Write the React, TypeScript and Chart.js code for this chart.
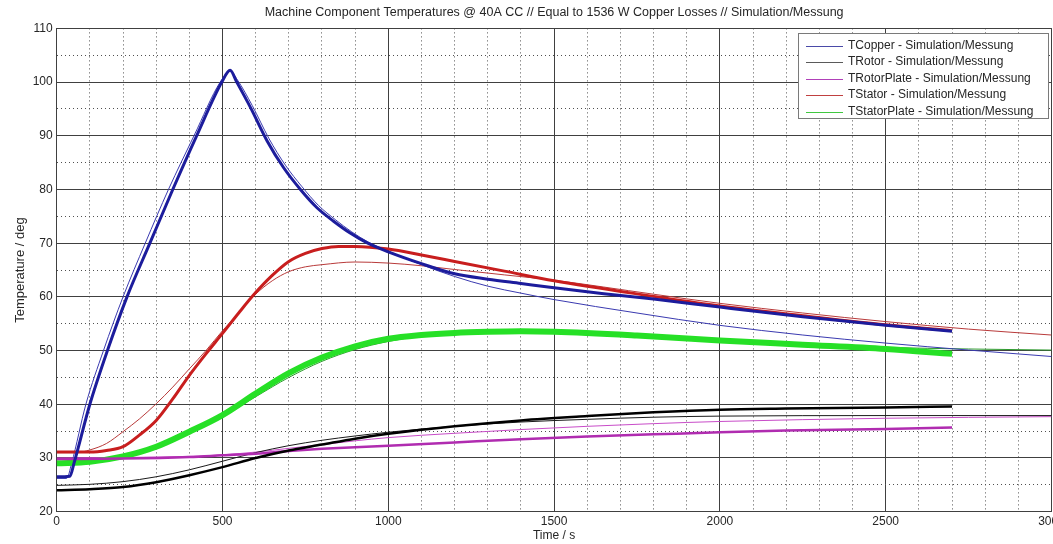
import { useEffect, useRef } from 'react';
import { Chart, registerables } from 'chart.js';

Chart.register(...registerables);

const TITLE = 'Machine Component Temperatures @ 40A CC // Equal to 1536 W Copper Losses // Simulation/Messung';
const X_LABEL = 'Time / s';
const Y_LABEL = 'Temperature / deg';
const LEGEND_LABELS = [
  'TCopper - Simulation/Messung',
  'TRotor - Simulation/Messung',
  'TRotorPlate - Simulation/Messung',
  'TStator - Simulation/Messung',
  'TStatorPlate - Simulation/Messung',
];
const LEGEND_COLORS = ['#4a4aa8', '#5a5a5a', '#b040b8', '#c04040', '#40c840'];

// Copper
const copperSimT = [0, 30, 45, 88, 141, 200, 267, 337, 414, 493, 523, 545, 590, 640, 690, 740, 790, 840, 890, 940, 1000, 1100, 1200, 1300, 1400, 1500, 1750, 2000, 2250, 2500, 2750, 3000];
const copperSimV = [26.2, 26.2, 29, 40, 50, 60, 70, 80, 90, 100, 102.0, 100.4, 95.6, 89.5, 84.5, 80.5, 77.0, 74.4, 72.1, 70.2, 68.5, 66.0, 63.8, 62.0, 60.7, 59.5, 57.0, 54.7, 52.9, 51.4, 50.1, 48.9];
const copperMeasT = [0, 40, 52, 100, 153, 212, 281, 350, 422, 498, 523, 543, 585, 635, 685, 735, 785, 835, 885, 935, 1000, 1100, 1200, 1300, 1400, 1500, 1650, 1800, 2000, 2250, 2500, 2700];
const copperMeasV = [26.5, 26.6, 29, 40, 50, 60, 70, 80, 90, 100, 102.2, 100, 95.2, 89.0, 84.0, 80.0, 76.6, 74.1, 71.9, 70.1, 68.4, 66.2, 64.3, 63.3, 62.5, 61.7, 60.6, 59.6, 58.1, 56.3, 54.7, 53.6];

// Rotor
const rotorSimT = [0, 100, 200, 300, 400, 500, 600, 700, 800, 900, 1000, 1200, 1400, 1600, 1800, 2000, 2500, 3000];
const rotorSimV = [24.9, 25.1, 25.6, 26.5, 27.8, 29.4, 31.0, 32.3, 33.3, 34.1, 34.8, 35.9, 36.7, 37.2, 37.6, 37.8, 37.9, 37.9];
const rotorMeasT = [0, 100, 200, 300, 400, 500, 600, 700, 800, 900, 1000, 1200, 1400, 1600, 1800, 2000, 2200, 2500, 2700];
const rotorMeasV = [24.0, 24.2, 24.6, 25.5, 26.8, 28.3, 30.0, 31.4, 32.5, 33.6, 34.5, 35.9, 37.0, 37.8, 38.5, 39.0, 39.2, 39.4, 39.6];

// Rotor plate
const rotorPlateSimT = [0, 200, 400, 500, 600, 700, 800, 900, 1000, 1200, 1400, 1600, 1800, 2000, 2500, 3000];
const rotorPlateSimV = [30.0, 30.1, 30.3, 30.6, 31.1, 31.8, 32.5, 33.2, 33.8, 34.6, 35.3, 35.9, 36.4, 36.8, 37.4, 37.7];
const rotorPlateMeasT = [0, 200, 400, 500, 600, 700, 800, 900, 1000, 1200, 1400, 1600, 1800, 2000, 2200, 2500, 2700];
const rotorPlateMeasV = [29.8, 29.9, 30.2, 30.5, 30.8, 31.3, 31.7, 32.0, 32.3, 32.9, 33.5, 34.0, 34.4, 34.8, 35.1, 35.4, 35.7];

// Stator
const statorSimT = [0, 60, 100, 150, 200, 250, 300, 350, 400, 450, 500, 550, 600, 650, 700, 750, 800, 900, 1000, 1100, 1200, 1350, 1500, 1800, 2000, 2250, 2500, 2750, 3000];
const statorSimV = [31.0, 31.0, 31.5, 32.7, 34.9, 37.3, 40.1, 43.2, 46.6, 50.0, 53.7, 57.1, 60.5, 63.0, 64.7, 65.6, 66.0, 66.5, 66.3, 65.8, 65.1, 64.1, 63.1, 60.5, 58.8, 57.0, 55.4, 54.0, 52.9];
const statorMeasT = [0, 100, 150, 200, 250, 300, 350, 400, 450, 500, 550, 600, 650, 700, 750, 800, 850, 900, 1000, 1100, 1200, 1350, 1500, 1800, 2000, 2250, 2500, 2700];
const statorMeasV = [31.1, 31.1, 31.4, 32.1, 34.3, 37.0, 41.0, 45.4, 49.4, 53.2, 57.1, 60.8, 64.0, 66.6, 68.1, 69.0, 69.4, 69.4, 68.9, 67.8, 66.6, 64.8, 63.0, 60.1, 58.3, 56.5, 54.8, 53.7];

// Stator plate
const statorPlateSimT = [0, 100, 200, 300, 400, 500, 600, 700, 800, 900, 1000, 1100, 1200, 1400, 1500, 1750, 2000, 2250, 2500, 2750, 3000];
const statorPlateSimV = [29.3, 29.5, 30.3, 32.0, 34.7, 37.7, 41.4, 45.0, 48.0, 50.2, 51.7, 52.7, 53.2, 53.5, 53.4, 52.8, 51.9, 51.2, 50.6, 50.3, 50.1];
const statorPlateMeasT = [0, 100, 200, 300, 400, 500, 600, 700, 800, 900, 1000, 1100, 1200, 1300, 1400, 1500, 1750, 2000, 2250, 2500, 2700];
const statorPlateMeasV = [29.0, 29.3, 30.3, 32.1, 34.9, 38.0, 42.0, 45.8, 48.7, 50.8, 52.2, 52.9, 53.3, 53.5, 53.6, 53.5, 52.8, 51.9, 51.1, 50.3, 49.4];

const X_MIN = 0;
const X_MAX = 3000;
const Y_MIN = 20;
const Y_MAX = 110;

const FONT = '"Liberation Sans", Arial, sans-serif';
const TEXT_COLOR = '#262626';

function pts(t: number[], v: number[]) {
  return t.map((x, i) => ({ x, y: v[i] }));
}

function line(label: string, t: number[], v: number[], color: string, width: number, order: number) {
  return {
    label,
    data: pts(t, v),
    borderColor: color,
    backgroundColor: color,
    borderWidth: width,
    pointRadius: 0,
    fill: false,
    cubicInterpolationMode: 'monotone' as const,
    order,
  };
}

const titlePlugin = {
  id: 'matTitle',
  afterDraw(chart: any) {
    const { ctx, chartArea } = chart;
    ctx.save();
    ctx.font = `12.5px ${FONT}`;
    ctx.fillStyle = TEXT_COLOR;
    ctx.textAlign = 'center';
    ctx.textBaseline = 'middle';
    ctx.fillText(TITLE, (chartArea.left + chartArea.right) / 2, 13);
    ctx.restore();
  },
};

const framePlugin = {
  id: 'matFrame',
  beforeDatasetsDraw(chart: any) {
    const { ctx, chartArea } = chart;
    ctx.save();
    ctx.strokeStyle = '#404040';
    ctx.lineWidth = 1;
    ctx.beginPath();
    const top = Math.round(chartArea.top) + 0.5;
    const right = Math.round(chartArea.right) - 0.5;
    ctx.moveTo(chartArea.left, top);
    ctx.lineTo(right, top);
    ctx.lineTo(right, chartArea.bottom);
    ctx.stroke();
    ctx.restore();
  },
};

const legendPlugin = {
  id: 'matLegend',
  afterDraw(chart: any) {
    const { ctx } = chart;
    ctx.save();
    const x0 = 798.5, y0 = 33.5, w = 250, h = 85;
    ctx.fillStyle = '#ffffff';
    ctx.fillRect(x0, y0, w, h);
    ctx.strokeStyle = '#7a7a7a';
    ctx.lineWidth = 1;
    ctx.strokeRect(x0, y0, w, h);
    ctx.font = `12px ${FONT}`;
    ctx.textAlign = 'left';
    ctx.textBaseline = 'middle';
    LEGEND_LABELS.forEach((lab, i) => {
      const y = 45.5 + i * 16.5;
      ctx.strokeStyle = LEGEND_COLORS[i];
      ctx.beginPath();
      ctx.moveTo(806, Math.round(y) + 0.5);
      ctx.lineTo(843, Math.round(y) + 0.5);
      ctx.stroke();
      ctx.fillStyle = TEXT_COLOR;
      ctx.fillText(lab, 848, y);
    });
    ctx.restore();
  },
};

export default function App() {
  const canvasRef = useRef<HTMLCanvasElement | null>(null);

  useEffect(() => {
    const canvas = canvasRef.current;
    if (!canvas) return;
    const datasets = [
      line('TCopper Messung', copperMeasT, copperMeasV, '#1c1c9c', 3, 1),
      line('TStator Messung', statorMeasT, statorMeasV, '#c81e1e', 3, 2),
      line('TRotor Messung', rotorMeasT, rotorMeasV, '#000000', 2.5, 3),
      line('TRotorPlate Messung', rotorPlateMeasT, rotorPlateMeasV, '#b02cb0', 2.5, 4),
      line('TStatorPlate Messung', statorPlateMeasT, statorPlateMeasV, '#26e026', 6, 5),
      line('TCopper Simulation', copperSimT, copperSimV, '#3a3ab0', 1, 10),
      line('TRotor Simulation', rotorSimT, rotorSimV, '#1a1a1a', 1, 11),
      line('TRotorPlate Simulation', rotorPlateSimT, rotorPlateSimV, '#c84cc8', 1, 12),
      line('TStator Simulation', statorSimT, statorSimV, '#b83a3a', 1, 13),
      line('TStatorPlate Simulation', statorPlateSimT, statorPlateSimV, '#2e9a2e', 1, 14),
    ];

    const plainTick = (v: any) => String(v);

    const chart = new Chart(canvas, {
      type: 'line',
      data: { datasets },
      plugins: [titlePlugin, framePlugin, legendPlugin],
      options: {
        responsive: false,
        animation: false,
        devicePixelRatio: 1,
        layout: { padding: { top: 28.4, right: 1.5, left: 0, bottom: 0 } },
        plugins: {
          legend: { display: false },
          title: { display: false },
          tooltip: { enabled: false },
        },
        scales: {
          x: {
            type: 'linear',
            position: 'bottom',
            min: X_MIN,
            max: X_MAX,
            ticks: {
              stepSize: 500,
              color: TEXT_COLOR,
              font: { family: FONT, size: 12 },
              padding: 3,
              maxRotation: 0,
              autoSkip: false,
              callback: plainTick,
            },
            grid: { color: '#404040', lineWidth: 1, drawTicks: false },
            border: { display: true, color: '#404040' },
            title: {
              display: true,
              text: X_LABEL,
              color: TEXT_COLOR,
              font: { family: FONT, size: 12 },
              padding: { top: 0, bottom: 1 },
            },
            afterFit: (s: any) => {
              s.height = 32.3;
              s.paddingLeft = 0;
              s.paddingRight = 0;
            },
          },
          x2: {
            type: 'linear',
            position: 'bottom',
            min: X_MIN,
            max: X_MAX,
            ticks: { display: false, stepSize: 100, autoSkip: false },
            grid: {
              drawTicks: false,
              lineWidth: 1,
              color: (c: any) => (c.tick && c.tick.value % 500 === 0 ? 'rgba(0,0,0,0)' : '#505050'),
            },
            border: { display: false, dash: [1, 3] },
            afterFit: (s: any) => {
              s.height = 0;
              s.paddingLeft = 0;
              s.paddingRight = 0;
            },
          },
          y: {
            type: 'linear',
            position: 'left',
            min: Y_MIN,
            max: Y_MAX,
            ticks: {
              stepSize: 10,
              color: TEXT_COLOR,
              font: { family: FONT, size: 12 },
              padding: 4,
              callback: plainTick,
            },
            grid: { color: '#404040', lineWidth: 1, drawTicks: false },
            border: { display: true, color: '#404040' },
            title: {
              display: true,
              text: Y_LABEL,
              color: TEXT_COLOR,
              font: { family: FONT, size: 13 },
              padding: { top: 13, bottom: 0 },
            },
            afterFit: (s: any) => {
              s.width = 56.7;
              s.paddingTop = 0;
              s.paddingBottom = 0;
            },
          },
          y2: {
            type: 'linear',
            position: 'left',
            min: Y_MIN,
            max: Y_MAX,
            ticks: { display: false, stepSize: 5 },
            grid: {
              drawTicks: false,
              lineWidth: 1,
              color: (c: any) => (c.tick && c.tick.value % 10 === 0 ? 'rgba(0,0,0,0)' : '#505050'),
            },
            border: { display: false, dash: [1, 3] },
            afterFit: (s: any) => {
              s.width = 0;
              s.paddingTop = 0;
              s.paddingBottom = 0;
            },
          },
        },
      } as any,
    });

    return () => {
      chart.destroy();
    };
  }, []);

  return (
    <div style={{ position: 'fixed', left: 0, top: 0, width: 1053, height: 544, background: '#ffffff' }}>
      <canvas ref={canvasRef} width={1053} height={544} style={{ width: 1053, height: 544, display: 'block' }} />
    </div>
  );
}
